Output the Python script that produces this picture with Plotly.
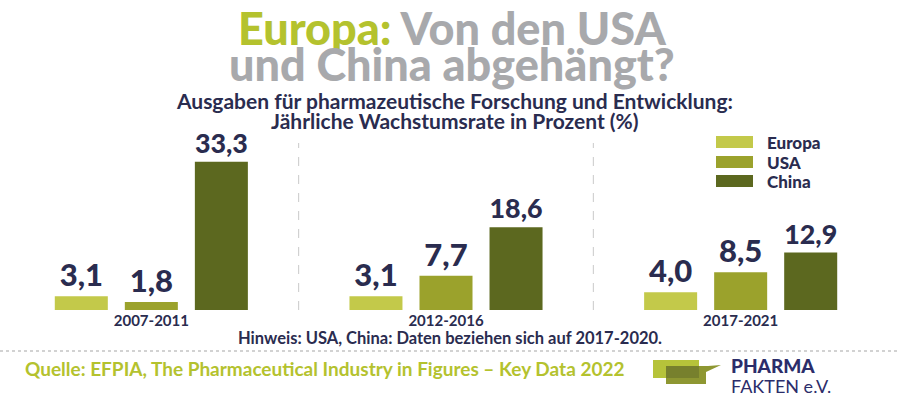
import plotly.graph_objects as go

categories = ["2007-2011", "2012-2016", "2017-2021"]
series_names = ["Europa", "USA", "China"]
europa = [3.1, 3.1, 4.0]
usa = [1.8, 7.7, 8.5]
china = [33.3, 18.6, 12.9]
series_values = [europa, usa, china]
series_colors = ["#c3c94a", "#9ba22c", "#5c681f"]

NAVY = "#2a2c4f"
GREEN = "#b4c22e"
GRAY = "#a8a9ac"
FONT = "Lato"

W, H = 900, 400
ML, MR, MT, MB = 4, 12, 128, 90
PW, PH = W - ML - MR, H - MT - MB
PX_PER_UNIT = 4.45


def px(x):
    return (x - ML) / PW


def py(y):
    return (H - MB - y) / PH


fig = go.Figure()
for name, vals, col in zip(series_names, series_values, series_colors):
    fig.add_trace(go.Bar(
        x=categories, y=vals, name=name, marker=dict(color=col, line=dict(width=0)),
        texttemplate="%{y:.1f}", textposition="outside",
        textfont=dict(family=FONT, size=31, color=NAVY, weight=900),
        cliponaxis=False, showlegend=False, hoverinfo="skip",
    ))

# separators between groups
for xv in [0.5, 1.5]:
    fig.add_shape(type="line", xref="x", yref="paper", x0=xv, x1=xv, y0=0, y1=py(143),
                  line=dict(color="#c9c9c9", width=1, dash="dash"))

# custom legend
leg_y = [142, 162, 181]
for name, col, yy in zip(series_names, series_colors, leg_y):
    fig.add_shape(type="rect", xref="paper", yref="paper",
                  x0=px(716), x1=px(753), y0=py(yy + 6), y1=py(yy - 6),
                  fillcolor=col, line=dict(width=0))
    fig.add_annotation(xref="paper", yref="paper", x=px(765), y=py(yy), text=name,
                       showarrow=False, xanchor="left", yanchor="middle",
                       font=dict(family=FONT, size=17, color=NAVY, weight=900))

# title
fig.add_annotation(xref="paper", yref="paper", x=px(452), y=py(28),
                   text=f"<span style='color:{GREEN}'>Europa:</span> Von den USA",
                   showarrow=False, xanchor="center", yanchor="middle",
                   font=dict(family=FONT, size=45, color=GRAY, weight=900))
fig.add_annotation(xref="paper", yref="paper", x=px(452), y=py(64),
                   text="und China abgehängt?",
                   showarrow=False, xanchor="center", yanchor="middle",
                   font=dict(family=FONT, size=45, color=GRAY, weight=900))
# subtitle
fig.add_annotation(xref="paper", yref="paper", x=px(455), y=py(100),
                   text="Ausgaben für pharmazeutische Forschung und Entwicklung:",
                   showarrow=False, xanchor="center", yanchor="middle",
                   font=dict(family=FONT, size=21, color=NAVY, weight="bold"))
fig.add_annotation(xref="paper", yref="paper", x=px(455), y=py(121),
                   text="Jährliche Wachstumsrate in Prozent (%)",
                   showarrow=False, xanchor="center", yanchor="middle",
                   font=dict(family=FONT, size=21, color=NAVY, weight="bold"))
# note
fig.add_annotation(xref="paper", yref="paper", x=px(450), y=py(338),
                   text="Hinweis: USA, China: Daten beziehen sich auf 2017-2020.",
                   showarrow=False, xanchor="center", yanchor="middle",
                   font=dict(family=FONT, size=16.5, color=NAVY, weight="bold"))
# dotted rule
fig.add_shape(type="line", xref="paper", yref="paper", x0=px(0), x1=px(900),
              y0=py(351), y1=py(351),
              line=dict(color="#c4c4c4", width=1.5, dash="dot"))
# source
fig.add_annotation(xref="paper", yref="paper", x=px(23), y=py(368),
                   text="Quelle: EFPIA, The Pharmaceutical Industry in Figures – Key Data 2022",
                   showarrow=False, xanchor="left", yanchor="middle",
                   font=dict(family=FONT, size=19, color=GREEN, weight="bold"))

# logo
def rect_path(pts):
    return "M " + " L ".join(f"{px(x)},{py(y)}" for x, y in pts) + " Z"

fig.add_shape(type="path", xref="paper", yref="paper",
              path=rect_path([(653, 360), (699, 360), (699, 378), (653, 378)]),
              fillcolor="#b6c33a", line=dict(width=0))
fig.add_shape(type="path", xref="paper", yref="paper",
              path=rect_path([(666, 366), (708, 366), (721, 365), (706, 372), (706, 384), (666, 384)]),
              fillcolor="#8e9732", line=dict(width=0))
fig.add_shape(type="path", xref="paper", yref="paper",
              path=rect_path([(666, 366), (699, 366), (699, 378), (666, 378)]),
              fillcolor="#77802d", line=dict(width=0))
fig.add_annotation(xref="paper", yref="paper", x=px(729), y=py(365),
                   text="PHARMA", showarrow=False, xanchor="left", yanchor="middle",
                   font=dict(family=FONT, size=19, color="#2b2d6a", weight=900))
fig.add_annotation(xref="paper", yref="paper", x=px(729), y=py(386),
                   text="FAKTEN e.V.", showarrow=False, xanchor="left", yanchor="middle",
                   font=dict(family=FONT, size=18, color="#2b2d6a", weight="normal"))

fig.update_layout(
    width=W, height=H,
    margin=dict(l=ML, r=MR, t=MT, b=MB, autoexpand=False),
    paper_bgcolor="white", plot_bgcolor="white",
    barmode="group", bargap=0.287, bargroupgap=0.243,
    separators=",.",
    showlegend=False,
    hovermode=False,
    xaxis=dict(showgrid=False, showline=False, zeroline=False, ticks="",
               tickfont=dict(family=FONT, size=15, color=NAVY, weight="bold"),
               ticklabelstandoff=0, automargin=False, fixedrange=True),
    yaxis=dict(range=[0, PH / PX_PER_UNIT], visible=False, showgrid=False,
               zeroline=False, automargin=False, fixedrange=True),
)

fig.write_html("out.html", config={"displayModeBar": False},
               post_script="document.body.style.margin='0';")
